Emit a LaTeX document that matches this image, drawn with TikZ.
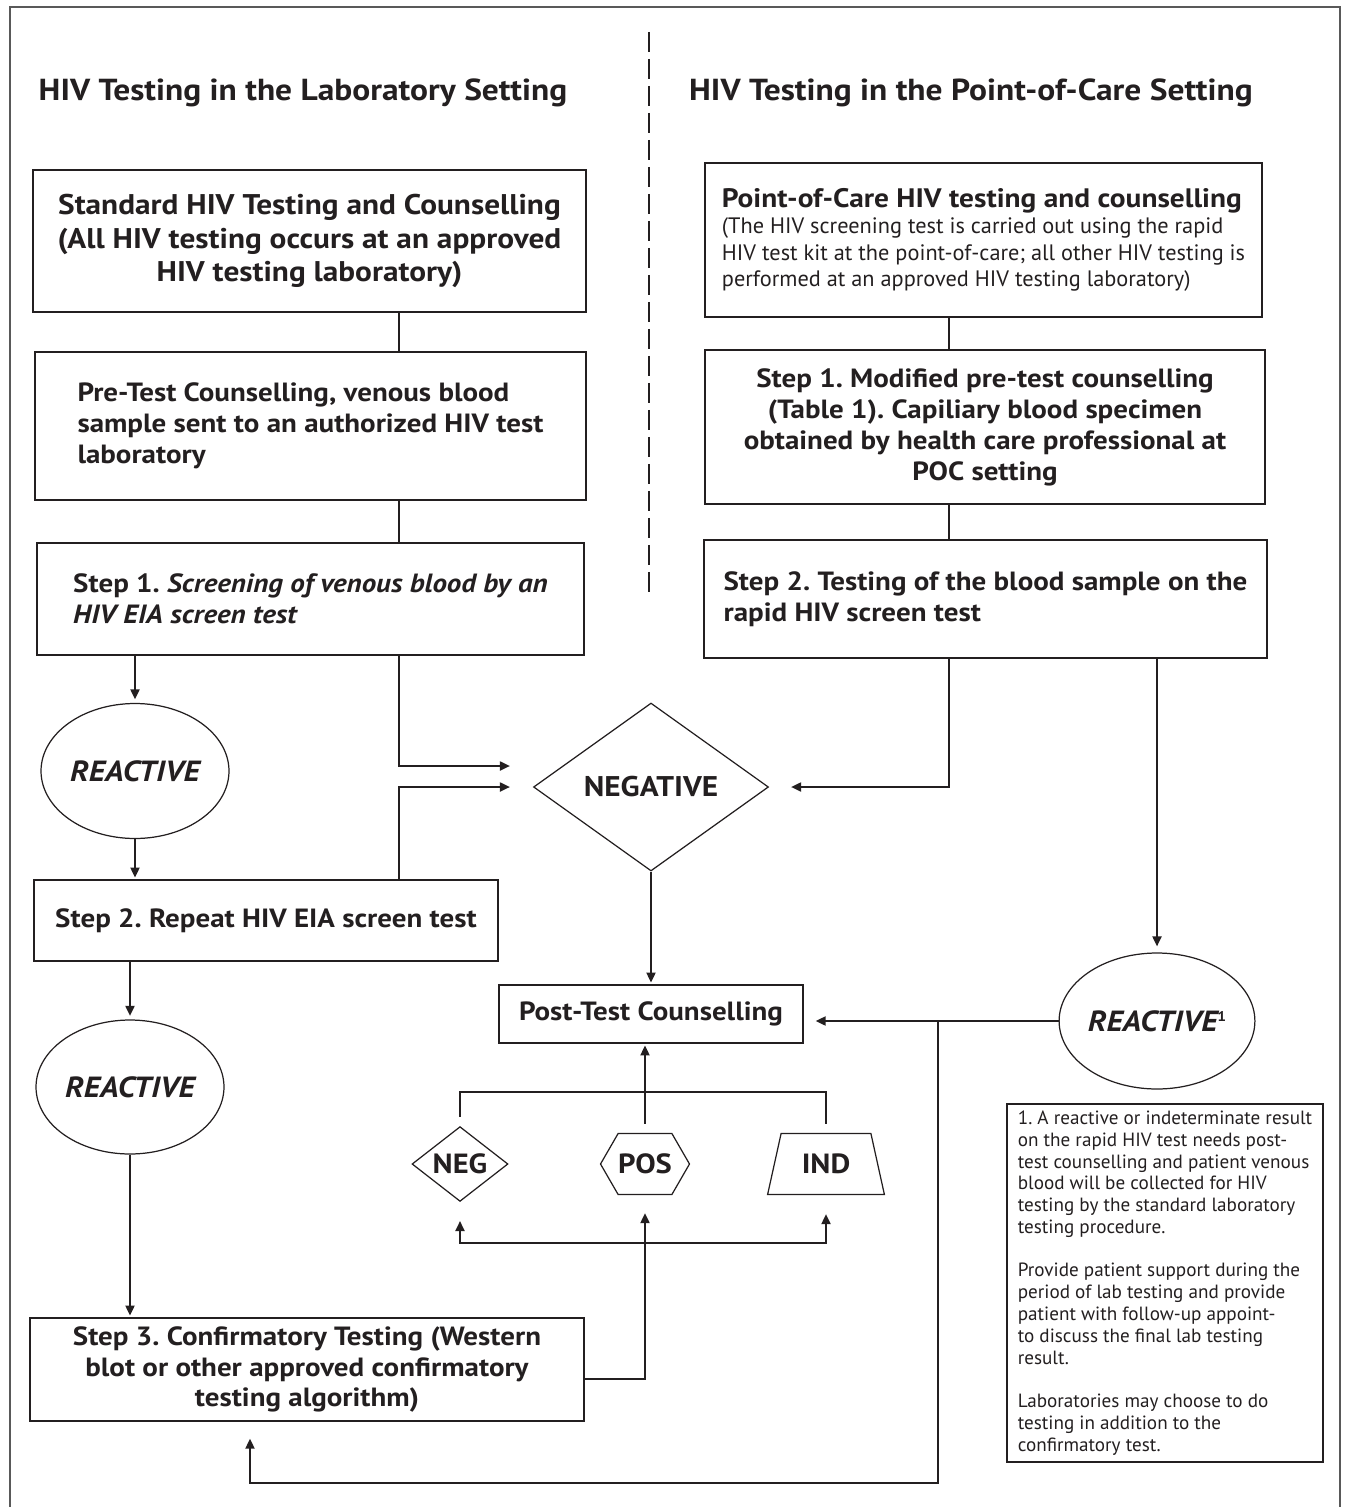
\documentclass[tikz,border=0pt]{standalone}
\usepackage{fontspec}
\setmainfont{PT Sans}[BoldFeatures={FakeStretch=1.1},BoldItalicFeatures={FakeStretch=1.1}]
\usetikzlibrary{arrows.meta,shapes.geometric,shapes.symbols}
\definecolor{ink}{HTML}{231F20}
\frenchspacing
\begin{document}
\begin{tikzpicture}[x=0.02cm,y=-0.02cm,color=ink,line width=1.1pt,
    hd/.style={font=\bfseries\fontsize{17.3}{20}\selectfont},
    box/.style={draw,line width=0.75pt,inner sep=0pt,align=center,font=\bfseries\fontsize{15}{17.6}\selectfont},
    oval/.style={ellipse,draw,line width=0.7pt,inner sep=0pt,minimum width=3.76cm,minimum height=2.7cm,font=\bfseries\itshape\fontsize{16.6}{19}\selectfont},
    res/.style={draw,line width=0.7pt,inner sep=0pt,font=\bfseries\fontsize{15.8}{18}\selectfont},
    arr/.style={-{Triangle[length=0.2cm,width=0.18cm]}},
    both/.style={{Triangle[length=0.2cm,width=0.18cm]}-{Triangle[length=0.2cm,width=0.18cm]}},
    divider/.style={line width=1.1pt,dash pattern=on 0.4cm off 0.14cm}]
  \useasboundingbox (0,0) rectangle (1345,1507);
  \draw[line width=1pt,black!65] (10,1510) -- (10,7) -- (1340,7) -- (1340,1510);
  \draw[divider] (649,32) -- (649,592);

  \node[hd] (labhead) at (303,93) {HIV Testing in the Laboratory Setting};
  \node[hd] (pochead) at (971,93) {HIV Testing in the Point-of-Care Setting};

  \node[box,font=\bfseries\fontsize{16.2}{19}\selectfont,minimum width=11.06cm,minimum height=2.84cm] (std) at (309.5,241)
    {Standard HIV Testing and Counselling\\(All HIV testing occurs at an approved\\HIV testing laboratory)};
  \node[box,align=left,minimum width=11.02cm,minimum height=2.96cm] (pre) at (310.5,426)
    {Pre-Test Counselling, venous blood\\sample sent to an authorized HIV test\\laboratory};
  \node[box,align=left,minimum width=10.94cm,minimum height=2.24cm] (scr) at (310.5,599)
    {Step 1. \textit{Screening of venous blood by an}\\\textit{HIV EIA screen test}};
  \node[oval] (rea1) at (135,771) {REACTIVE};
  \node[box,minimum width=9.28cm,minimum height=1.62cm] (rep) at (266,920.5) {Step 2. Repeat HIV EIA screen test};
  \node[oval,minimum height=2.68cm] (rea2) at (130,1087) {REACTIVE};
  \node[box,minimum width=11.08cm,minimum height=2.06cm] (conf) at (307,1369.5)
    {Step 3. Confirmatory Testing (Western\\blot or other approved confirmatory\\testing algorithm)};

  \node[diamond,draw,line width=0.7pt,inner sep=0pt,minimum width=4.7cm,minimum height=3.36cm,
    font=\bfseries\fontsize{16.2}{19}\selectfont] (neg) at (651,787) {NEGATIVE};
  \node[box,minimum width=6.08cm,minimum height=1.16cm] (post) at (651,1014) {Post-Test Counselling};
  \node[res,diamond,minimum width=1.92cm,minimum height=1.24cm] (negres) at (460,1164) {NEG};
  \node[res,signal,signal to=west and east,signal pointer angle=120,minimum width=1.7cm,minimum height=1.22cm] (posres) at (645,1164) {POS};
  \node[res,trapezium,trapezium stretches,trapezium left angle=70,trapezium right angle=70,
    minimum width=2.34cm,minimum height=1.22cm] (indres) at (826,1164) {IND};

  \node[box,align=left,font=\fontsize{12.7}{15}\selectfont,minimum width=11.14cm,minimum height=3.08cm] (poc) at (983.5,240)
    {{\bfseries\fontsize{15.2}{16}\selectfont Point-of-Care HIV testing and counselling}\\
     (The HIV screening test is carried out using the rapid\\
     HIV test kit at the point-of-care; all other HIV testing is\\
     performed at an approved HIV testing laboratory)};
  \node[box,minimum width=11.2cm,minimum height=3.08cm] (mod) at (985,427)
    {Step 1. Modified pre-test counselling\\(Table 1). Capiliary blood specimen\\obtained by health care professional at\\POC setting};
  \node[box,align=left,minimum width=11.26cm,minimum height=2.36cm] (rap) at (985.5,599)
    {Step 2. Testing of the blood sample on the\\rapid HIV screen test};
  \node[oval,minimum width=3.8cm,minimum height=2.72cm] (rea3) at (1157,1021)
    {REACTIVE\raisebox{5.5pt}{\upshape\fontsize{8}{8}\selectfont 1}};
  \node[box,align=left,font=\fontsize{10.9}{12.4}\selectfont,minimum width=6.32cm,minimum height=7.16cm] (note) at (1165,1283)
    {1. A reactive or indeterminate result\\on the rapid HIV test needs post-\\test counselling and patient venous\\
     blood will be collected for HIV\\testing by the standard laboratory\\testing procedure.\\[12.4pt]
     Provide patient support during the\\period of lab testing and provide\\patient with follow-up appoint-\\
     to discuss the final lab testing\\result.\\[12.4pt]
     Laboratories may choose to do\\testing in addition to the\\confirmatory test.};

  \coordinate (lx) at (399,0);
  \coordinate (rx) at (949,0);
  \coordinate (split) at (938,0);
  \coordinate (back) at (250,1483);
  \coordinate (fork) at (0,1092);
  \coordinate (bus) at (0,1243);
  \coordinate (hi) at (0,766);
  \coordinate (tap) at (0,1379);

  \draw (std.south -| lx) -- (pre.north -| lx);
  \draw (pre.south -| lx) -- (scr.north -| lx);
  \draw (poc.south -| rx) -- (mod.north -| rx);
  \draw (mod.south -| rx) -- (rap.north -| rx);
  \draw[arr,shorten >=2pt] (scr.south -| rea1) -- (rea1.north);
  \draw[arr,shorten >=0.46cm] (scr.south -| lx) |- (neg.west |- hi);
  \draw[arr,shorten >=0.46cm] (rep.north -| lx) |- (neg.west);
  \draw[arr,shorten >=1pt] (rea1.south) -- (rep.north -| rea1);
  \draw[arr,shorten >=2pt] (rep.south -| rea2) -- (rea2.north);
  \draw[arr,shorten >=1pt] (rea2.south) -- (conf.north -| rea2);
  \draw[arr,shorten >=1pt] (neg.south) -- (post.north);
  \draw[arr,shorten >=0.44cm] (rap.south -| rx) |- (neg.east);
  \draw[arr,shorten >=0.12cm] (rap.south -| rea3) -- (rea3.north);
  \draw[arr,shorten >=0.24cm] (rea3.west) -- (post.east |- rea3.west);
  \draw[arr,shorten >=0.34cm] (rea3.west -| split) -- (split |- back) -- (back) -- (conf.south -| back);
  \draw[shorten <=0.18cm,shorten >=0.18cm] (negres.north) -- (negres.north |- fork) -- (indres.north |- fork) -- (indres.north);
  \draw[arr,shorten <=0.18cm,shorten >=1pt] (posres.north) -- (post.south -| posres);
  \draw[arr,shorten >=0.36cm] (conf.east |- tap) -| (posres.south);
  \draw[both,shorten <=0.38cm,shorten >=0.38cm] (negres.south) -- (negres.south |- bus) -- (indres.south |- bus) -- (indres.south);
\end{tikzpicture}
\end{document}
